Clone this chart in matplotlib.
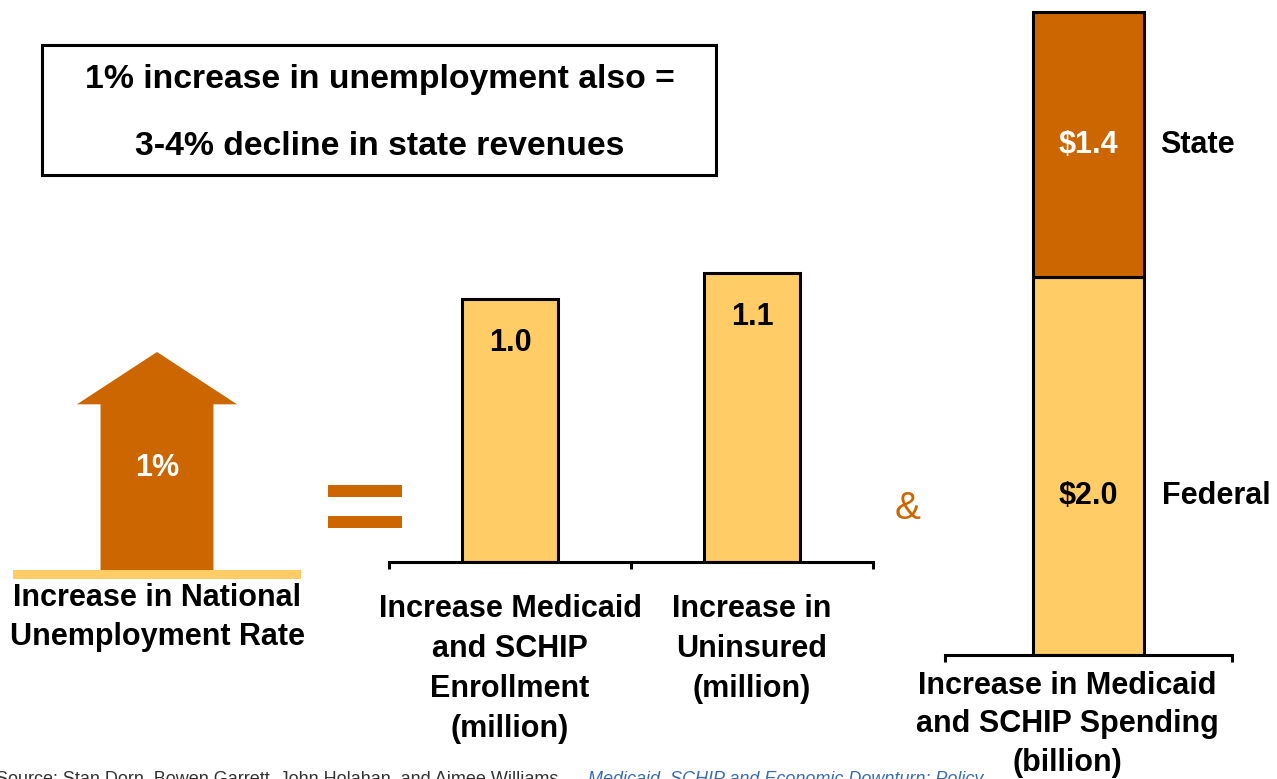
import matplotlib.pyplot as plt
from matplotlib.patches import Rectangle, FancyArrow

plt.rcParams['font.family'] = ['Liberation Sans', 'DejaVu Sans']

# values
unemp_rise = 1.0
enroll_labels = ['Increase Medicaid\nand SCHIP\nEnrollment\n(million)', 'Increase in\nUninsured\n(million)']
enroll_values = [1.0, 1.1]
spend_label = 'Increase in Medicaid\nand SCHIP Spending\n(billion)'
federal = 2.0
state = 1.4

ORANGE = '#CC6600'
YELLOW = '#FFCC66'
W, H = 1277, 779
FS = 22


def px_box(x0, y0, x1, y1):
    # pixel box (top-left origin) -> figure fraction rect
    return [x0 / W, 1 - y1 / H, (x1 - x0) / W, (y1 - y0) / H]


fig = plt.figure(figsize=(W / 100, H / 100), dpi=100)
fig.patch.set_facecolor('white')

# full-figure layer for the decorations
ov = fig.add_axes([0, 0, 1, 1])
ov.set_xlim(0, W)
ov.set_ylim(H, 0)
ov.axis('off')

ov.add_patch(Rectangle((42, 45), 674, 130, fill=False, ec='black', lw=2.2))
ov.text(380, 79, '1% increase in unemployment also =', ha='center', va='center',
        fontsize=24.3, fontweight='bold')
ov.text(380, 146, '3-4% decline in state revenues', ha='center', va='center',
        fontsize=24.3, fontweight='bold')

# equals sign
ov.add_patch(Rectangle((328, 485), 74, 12, fc=ORANGE, ec='none'))
ov.add_patch(Rectangle((328, 516), 74, 12, fc=ORANGE, ec='none'))
ov.text(908, 509, '&', ha='center', va='center', fontsize=28, color=ORANGE)

# source line, cut by the bottom edge
src = dict(ha='left', va='top', fontsize=13)
ov.text(-4, 771, 'Source: Stan Dorn, Bowen Garrett, John Holahan, and Aimee Williams,',
        color='#333333', **src)
ov.text(588, 771, 'Medicaid, SCHIP and Economic Downturn: Policy',
        color='#3A6DB0', style='italic', **src)

# arrow for the unemployment rate
ax_a = fig.add_axes(px_box(13, 352, 301, 570))
ax_a.set_xlim(0, 1)
ax_a.set_ylim(0, unemp_rise)
ax_a.axis('off')
ax_a.add_patch(FancyArrow(0.5, 0, 0, unemp_rise, width=0.392, head_width=0.556,
                          head_length=0.24 * unemp_rise, length_includes_head=True,
                          fc=ORANGE, ec='none'))
ax_a.add_patch(Rectangle((0, -0.04), 1, 0.04, fc=YELLOW, ec='none', clip_on=False))
ax_a.text(0.5, 0.47 * unemp_rise, f'{unemp_rise:.0f}%', ha='center', va='center',
          fontsize=FS, fontweight='bold', color='white')
ax_a.text(0.5, -0.06, 'Increase in National\nUnemployment Rate', ha='center', va='top',
          fontsize=FS, fontweight='bold', linespacing=1.4)

# enrollment / uninsured bars
ax_m = fig.add_axes(px_box(389, 562 - 1.2 * 263, 873, 562))
ax_m.patch.set_visible(False)
xm = [0.5, 1.5]
ax_m.bar(xm, enroll_values, width=0.4, color=YELLOW, edgecolor='black', linewidth=2.2)
for x, v in zip(xm, enroll_values):
    ax_m.text(x, v - 0.167, f'{v:.1f}', ha='center', va='center', fontsize=FS, fontweight='bold')
ax_m.set_xlim(0, 2)
ax_m.set_ylim(0, 1.2)
for s in ['top', 'left', 'right']:
    ax_m.spines[s].set_visible(False)
ax_m.spines['bottom'].set_linewidth(2.2)
ax_m.set_yticks([])
ax_m.set_xticks([0, 1, 2])
ax_m.set_xticklabels([])
ax_m.tick_params(axis='x', which='major', length=5, width=2.2, direction='out')
ax_m.set_xticks(xm, minor=True)
ax_m.set_xticklabels(enroll_labels, minor=True, fontsize=FS, fontweight='bold', linespacing=1.44)
ax_m.tick_params(axis='x', which='minor', length=0, pad=23)

# spending, stacked federal + state
ax_r = fig.add_axes(px_box(945, 655 - 3.45 * 189, 1232, 655))
ax_r.patch.set_visible(False)
ax_r.bar([0.5], [federal], width=0.39, color=YELLOW, edgecolor='black', linewidth=2.2)
ax_r.bar([0.5], [state], bottom=[federal], width=0.39, color=ORANGE, edgecolor='black', linewidth=2.2)
ax_r.text(0.5, federal * 0.42, f'${federal:.1f}', ha='center', va='center', fontsize=FS, fontweight='bold')
ax_r.text(0.5, federal + state / 2, f'${state:.1f}', ha='center', va='center', fontsize=FS,
          fontweight='bold', color='white')
ax_r.text(0.755, federal * 0.42, 'Federal', ha='left', va='center', fontsize=FS, fontweight='bold')
ax_r.text(0.75, federal + state / 2, 'State', ha='left', va='center', fontsize=FS, fontweight='bold')
ax_r.set_xlim(0, 1)
ax_r.set_ylim(0, 3.45)
for s in ['top', 'left', 'right']:
    ax_r.spines[s].set_visible(False)
ax_r.spines['bottom'].set_linewidth(2.2)
ax_r.set_yticks([])
ax_r.set_xticks([0, 1])
ax_r.set_xticklabels([])
ax_r.tick_params(axis='x', which='major', length=5, width=2.2, direction='out')
# category label sits a little left of the bar
ax_r.text(0.427, -0.0245, spend_label, transform=ax_r.get_xaxis_transform(),
          ha='center', va='top', fontsize=FS, fontweight='bold', linespacing=1.36)

fig.savefig('out.png', dpi=100)
